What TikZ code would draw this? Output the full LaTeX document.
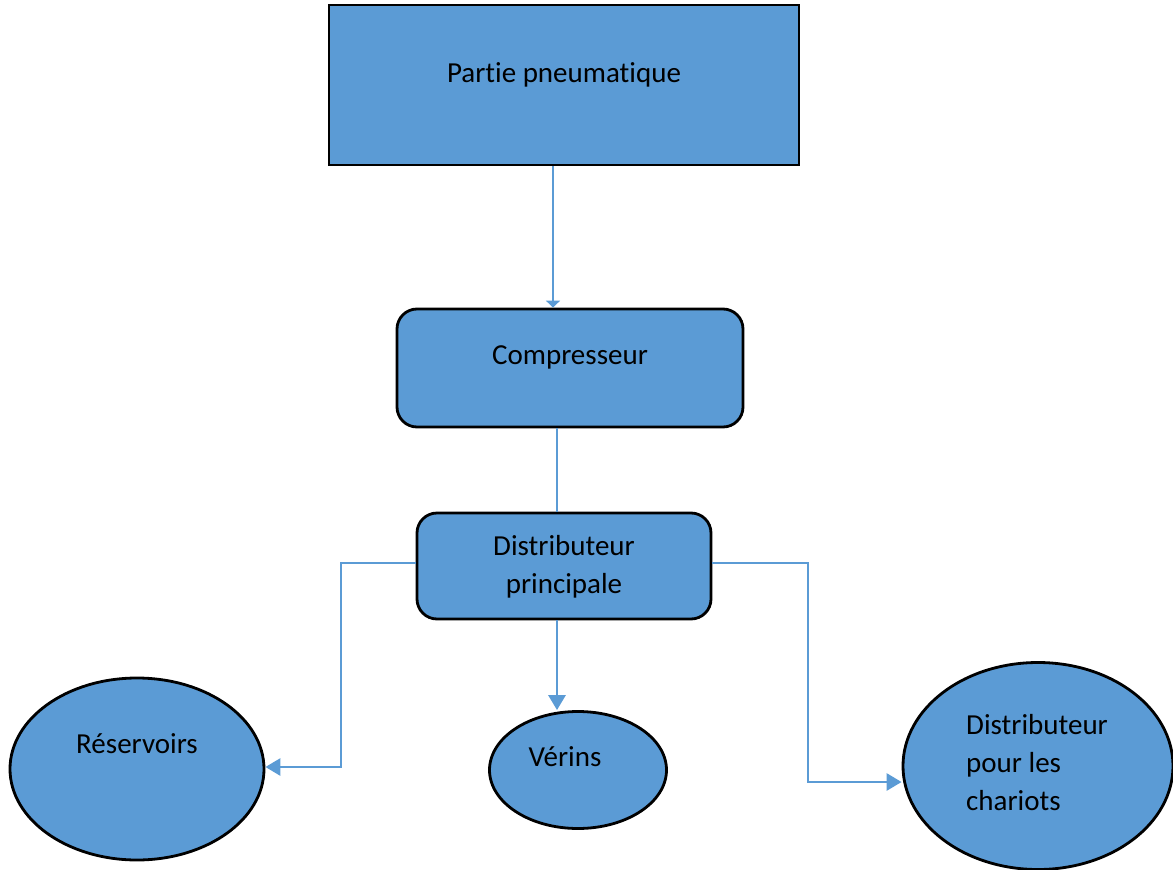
\documentclass[tikz,border=0pt]{standalone}
\usepackage{fontspec}
\setmainfont[Ligatures={NoCommon}]{Carlito}
\usetikzlibrary{arrows.meta,shapes.geometric}
\definecolor{boxblue}{HTML}{5B9BD5}
\begin{document}
\begin{tikzpicture}[x=1pt,y=-1pt,
  block/.style={draw=black,line width=2.8pt,fill=boxblue,inner sep=0pt},
  oval/.style={block,ellipse},
  txt/.style={font=\fontsize{29}{38}\selectfont,inner sep=0pt,align=center},
  link/.style={draw=boxblue,line width=2.8pt},
  tip/.style={-{Triangle[length=15pt,width=17pt]}}]
\useasboundingbox (0,0) rectangle (1173,870);

% boxes
\node[block,minimum width=470pt,minimum height=160pt] (pp) at (564,85) {};
\node[block,rounded corners=20pt,minimum width=346pt,minimum height=118pt] (cp) at (570,368) {};
\node[block,rounded corners=20pt,minimum width=294pt,minimum height=106pt] (dp) at (564,566) {};
\node[oval,minimum width=254pt,minimum height=182pt] (res) at (137,769) {};
\node[oval,minimum width=177pt,minimum height=117pt] (ver) at (578,770) {};
\node[oval,minimum width=270pt,minimum height=207pt] (chr) at (1038,766) {};

% labels
\node[txt] (tpp) at (564,75) {Partie pneumatique};
\node[txt] (tcp) at (570,357) {Compresseur};
\node[txt] (tdp) at (564,567) {Distributeur\\principale};
\node[txt] (tres) at (137,744) {Réservoirs};
\node[txt] (tver) at (565,757) {Vérins};
\node[txt,align=left,anchor=west] (tchr) at (966,763) {Distributeur\\pour les\\chariots};

% connectors
\draw[link,-{Triangle[length=7pt,width=14pt]}] (pp.south -| 553,0) -- (cp.north -| 553,0);
\draw[link] (cp.south -| 557,0) -- (dp.north -| 557,0);
\draw[link,tip] (dp.south -| 557,0) -- (ver.north -| 557,0);
\draw[link,tip] (dp.west |- 0,563) -- (341,563) |- (res.east |- 0,767);
\draw[link,tip] (dp.east |- 0,563) -- (808,563) |- (chr.west |- 0,782);
\end{tikzpicture}
\end{document}
